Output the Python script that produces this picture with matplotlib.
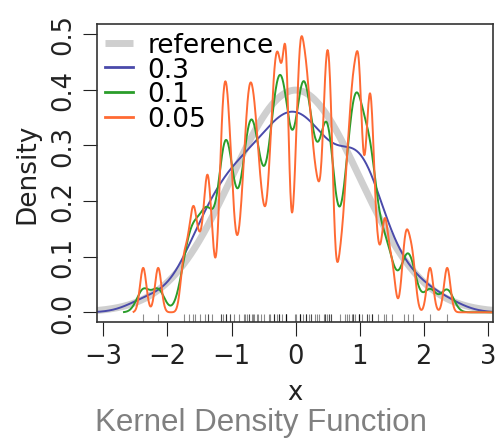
import numpy as np
import matplotlib
matplotlib.use('Agg')
import matplotlib.pyplot as plt

# sample values (rug positions)
x_data = [-2.379, -2.145, -1.749, -1.666, -1.602, -1.572, -1.494, -1.419, -1.371, -1.371, -1.304,
          -1.166, -1.166, -1.133, -1.090, -1.090, -1.082, -1.024, -1.024, -0.964, -0.877, -0.813,
          -0.791, -0.753, -0.727, -0.722, -0.684, -0.665, -0.646, -0.606, -0.591, -0.539, -0.493,
          -0.419, -0.398, -0.338, -0.337, -0.337, -0.295, -0.258, -0.258, -0.258, -0.210, -0.150,
          -0.150, -0.150, -0.150, -0.150, -0.017, 0.006, 0.069, 0.069, 0.069, 0.069, 0.114, 0.157,
          0.157, 0.158, 0.203, 0.241, 0.242, 0.295, 0.333, 0.372, 0.450, 0.452, 0.461, 0.495, 0.517,
          0.523, 0.557, 0.557, 0.697, 0.773, 0.804, 0.835, 0.872, 0.898, 0.899, 0.921, 0.983, 0.984,
          0.984, 0.984, 1.033, 1.113, 1.113, 1.149, 1.188, 1.188, 1.188, 1.281, 1.382, 1.405, 1.502,
          1.696, 1.751, 1.828, 2.097, 2.365]
bandwidths = [0.3, 0.1, 0.05]
labels = ['reference', '0.3', '0.1', '0.05']
colors = ['#cfcfcf', '#4a4aaa', '#2a9d2a', '#ff6a33']
xticks = [-3, -2, -1, 0, 1, 2, 3]
xticklabels = ['\u22123', '\u22122', '\u22121', '0', '1', '2', '3']
yticks = [0, 0.1, 0.2, 0.3, 0.4, 0.5]
yticklabels = ['0.0', '0.1', '0.2', '0.3', '0.4', '0.5']

pts = np.asarray(x_data)


def kde(h, grid):
    d = grid[:, None] - pts[None, :]
    return np.exp(-0.5 * (d / h) ** 2).sum(1) / (len(pts) * h * np.sqrt(2 * np.pi))


fig = plt.figure(figsize=(4.99, 4.39), dpi=100)
ax = fig.add_axes([97 / 499, 1 - 323 / 439, 396 / 499, 298 / 439])

gr = np.linspace(-3.2, 3.2, 800)
ax.plot(gr, np.exp(-0.5 * gr ** 2) / np.sqrt(2 * np.pi), color=colors[0], lw=5,
        solid_capstyle='butt', label=labels[0])
for h, cc, lab in zip(bandwidths, colors[1:], labels[1:]):
    gg = np.linspace(pts.min() - 3 * h, 3.2, 900)
    ax.plot(gg, kde(h, gg), color=cc, lw=1.4, label=lab)

ax.vlines(pts, 0, 0.027, transform=ax.get_xaxis_transform(), color='k', alpha=0.45, lw=0.8)

ax.set_xlim(-3.10, 3.08)
ax.set_ylim(-0.0174, 0.5176)
ax.set_xticks(xticks)
ax.set_xticklabels(xticklabels)
ax.set_yticks(yticks)
ax.set_yticklabels(yticklabels, rotation=90, va='center')
ax.tick_params(direction='out', length=10, width=0.8, labelsize=18.5, pad=5, colors='#222222')
for s in ax.spines.values():
    s.set_color('#333333')
    s.set_linewidth(1.2)
ax.set_xlabel('x', fontsize=18.5, labelpad=7, color='#222222')
ax.set_ylabel('Density', fontsize=19, labelpad=7, color='#222222')

leg = ax.legend(loc='upper left', frameon=False, fontsize=19, handlelength=1.05,
                handletextpad=0.55, labelspacing=-0.05, borderaxespad=0.2, borderpad=0.1)
for lh, lw in zip(leg.get_lines(), [5, 2, 2, 2]):
    lh.set_linewidth(lw)

fig.text(0.522, 1 - 423 / 439, 'Kernel Density Function', ha='center', va='center',
         fontsize=22.5, color='#808080', family='Liberation Sans')
fig.savefig('out.png', dpi=100)
